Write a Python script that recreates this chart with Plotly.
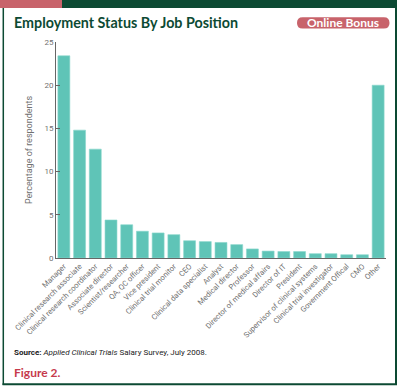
import plotly.graph_objects as go

categories = ["Manager", "Clinical research associate", "Clinical research coordinator",
              "Associate director", "Scientist/researcher", "QA, QC officer", "Vice president",
              "Clinical trial monitor", "CEO", "Clinical data specialist", "Analyst",
              "Medical director", "Professor", "Director of medical affairs", "Director of IT",
              "President", "Supervisor of clinical systems", "Clinical trial investigator",
              "Government Offical", "CMO", "Other"]
values = [23.4, 14.8, 12.6, 4.4, 3.85, 3.1, 2.9, 2.7, 2.0, 1.9, 1.8,
          1.55, 1.05, 0.8, 0.75, 0.75, 0.5, 0.5, 0.38, 0.38, 20.0]
y_ticks = [0, 5, 10, 15, 20, 25]

W, H = 400, 391
L, R, T, B = 56, 14, 42, 133
PW, PH = W - L - R, H - T - B

def px(x):
    return (x - L) / PW

def py(y):
    return (H - B - y) / PH

GREEN = "#0c4a33"
PINK = "#c8636b"
TEAL = "#5fc4b7"
GRAY = "#707070"

fig = go.Figure(go.Bar(
    x=categories, y=values,
    marker=dict(color=TEAL, line=dict(color="#8ad6cc", width=0.6)),
))

shapes = []
# top band
shapes.append(dict(type="rect", xref="paper", yref="paper", x0=px(0), x1=px(62), y0=py(0), y1=py(8),
                   fillcolor=PINK, line=dict(width=0), layer="above"))
shapes.append(dict(type="rect", xref="paper", yref="paper", x0=px(62), x1=px(397), y0=py(0), y1=py(8),
                   fillcolor=GREEN, line=dict(width=0), layer="above"))
# frame
shapes.append(dict(type="line", xref="paper", yref="paper", x0=px(3.3), x1=px(3.3), y0=py(8), y1=py(385),
                   line=dict(color=GREEN, width=1.5), layer="above"))
shapes.append(dict(type="line", xref="paper", yref="paper", x0=px(396), x1=px(396), y0=py(8), y1=py(385),
                   line=dict(color=GREEN, width=2), layer="above"))
shapes.append(dict(type="line", xref="paper", yref="paper", x0=px(2.5), x1=px(397), y0=py(384.3), y1=py(384.3),
                   line=dict(color=GREEN, width=2), layer="above"))
# pill
x0, x1, y0, y1, r = 297, 389.5, 17.3, 28.5, 5.6
pts = (f"M {px(x0 + r)},{py(y0)} L {px(x1 - r)},{py(y0)} "
       f"Q {px(x1)},{py(y0)} {px(x1)},{py((y0 + y1) / 2)} "
       f"Q {px(x1)},{py(y1)} {px(x1 - r)},{py(y1)} "
       f"L {px(x0 + r)},{py(y1)} "
       f"Q {px(x0)},{py(y1)} {px(x0)},{py((y0 + y1) / 2)} "
       f"Q {px(x0)},{py(y0)} {px(x0 + r)},{py(y0)} Z")
shapes.append(dict(type="path", xref="paper", yref="paper", path=pts,
                   fillcolor=PINK, line=dict(width=0), layer="above"))

annotations = [
    dict(text="Employment Status By Job Position", x=px(11.5), y=py(22), xref="paper", yref="paper",
         xanchor="left", yanchor="middle", showarrow=False,
         font=dict(family="Lato", size=14.3, color=GREEN, weight=700)),
    dict(text="Online Bonus", x=px(343), y=py(23), xref="paper", yref="paper",
         xanchor="center", yanchor="middle", showarrow=False,
         font=dict(family="Lato", size=12, color="white", weight=700)),
    dict(text="<b>Source:</b> <i>Applied Clinical Trials</i> Salary Survey, July 2008.",
         x=px(12), y=py(352.5), xref="paper", yref="paper",
         xanchor="left", yanchor="middle", showarrow=False,
         font=dict(family="Roboto", size=8, color="#222222")),
    dict(text="Figure 2.", x=px(11.5), y=py(372), xref="paper", yref="paper",
         xanchor="left", yanchor="middle", showarrow=False,
         font=dict(family="Lato", size=12, color="#c63a4c", weight=700)),
]

fig.update_layout(
    width=W, height=H,
    margin=dict(l=L, r=R, t=T, b=B, autoexpand=False),
    paper_bgcolor="white", plot_bgcolor="white",
    bargap=0.24, showlegend=False,
    shapes=shapes, annotations=annotations,
    font=dict(family="Roboto", color=GRAY),
)
fig.update_xaxes(
    tickangle=-45, tickfont=dict(family="Roboto", size=7.6, color=GRAY),
    showline=True, linecolor="#666666", linewidth=1, ticks="", showgrid=False,
    range=[-0.5, 20.5], fixedrange=True,
)
fig.update_yaxes(
    range=[0, 25], tickvals=y_ticks, ticktext=[str(v) for v in y_ticks],
    tickfont=dict(family="Roboto", size=8, color=GRAY),
    showline=True, linecolor="#666666", linewidth=1, ticks="inside", ticklen=4,
    tickcolor="#666666", showgrid=False, zeroline=False,
    title=dict(text="Percentage of respondents", font=dict(family="Roboto", size=9, color=GRAY), standoff=10),
)

fig.write_html("out.html", config={"displayModeBar": False},
               post_script="document.body.style.margin='0';")
